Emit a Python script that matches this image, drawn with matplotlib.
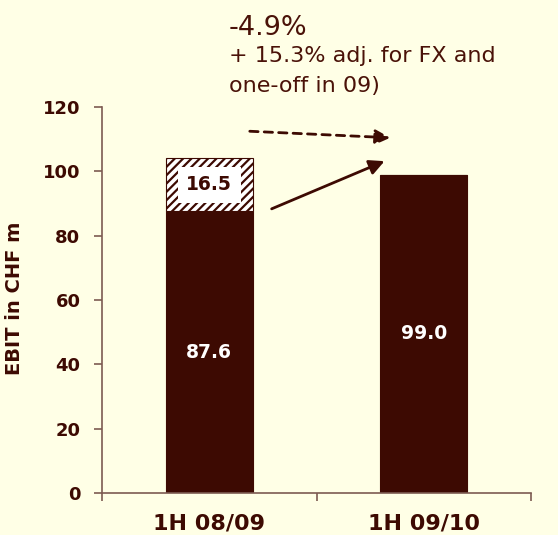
import matplotlib
matplotlib.use("Agg")
import matplotlib.pyplot as plt

# EBIT data (CHF m)
periods = ["1H 08/09", "1H 09/10"]
base_values = [87.6, 99.0]
one_off_values = [16.5, 0.0]
y_ticks = [0, 20, 40, 60, 80, 100, 120]
change_lines = ["-4.9%", "+ 15.3% adj. for FX and", "one-off in 09)"]

BG = "#FFFFE6"
BROWN = "#3D0A02"
TEXT = "#4A1208"
SPINE = "#7D5B52"

plt.rcParams["font.family"] = ["DejaVu Sans"]
plt.rcParams["hatch.color"] = BROWN
plt.rcParams["hatch.linewidth"] = 1.6

W, H = 558, 535
fig = plt.figure(figsize=(W / 100, H / 100), dpi=100, facecolor=BG)
ax = fig.add_axes([102 / W, 1 - 493 / H, 429 / W, 386 / H], facecolor=BG)

x = list(range(len(periods)))
bar_w = 0.405
ax.bar(x, base_values, width=bar_w, color=BROWN, edgecolor=BROWN, linewidth=0.8, zorder=2)
ax.bar(x, one_off_values, width=bar_w, bottom=base_values, color="white",
       edgecolor=BROWN, hatch="////", linewidth=0.8, zorder=2)

# value labels
for xi, v in zip(x, base_values):
    ax.text(xi, v / 2, f"{v:.1f}", color="white", fontsize=13.5, fontweight="bold",
            ha="center", va="center", zorder=3)
for xi, b, v in zip(x, base_values, one_off_values):
    if v > 0:
        ax.text(xi, b + v / 2, f"{v:.1f}", color=BROWN, fontsize=13.5, fontweight="bold",
                ha="center", va="center", zorder=3,
                bbox=dict(boxstyle="square,pad=0.45", fc="white", ec="none"))

ax.set_xlim(-0.5, 1.5)
ax.set_ylim(0, 120)
ax.set_yticks(y_ticks)
ax.set_yticklabels([str(t) for t in y_ticks], fontweight="bold")
ax.set_xticks(x)
ax.set_xticklabels(periods, fontweight="bold")
ax.set_xticks([-0.5, 0.5, 1.5], minor=True)

for side in ("top", "right"):
    ax.spines[side].set_visible(False)
for side in ("left", "bottom"):
    ax.spines[side].set_color(SPINE)
    ax.spines[side].set_linewidth(1.2)

ax.tick_params(axis="y", which="major", direction="out", length=6, width=1.2,
               color=SPINE, labelcolor=BROWN, labelsize=13, pad=9.5)
ax.tick_params(axis="x", which="major", length=0, labelcolor=BROWN, labelsize=16, pad=15)
ax.tick_params(axis="x", which="minor", direction="out", length=6, width=1.2, color=SPINE)

ax.set_ylabel("EBIT in CHF m", color=BROWN, fontsize=14, fontweight="bold")
ax.yaxis.set_label_coords(-0.182, 0.505)

# change arrows
ax.annotate("", xy=(0.857, 110.4), xytext=(0.176, 112.5),
            arrowprops=dict(arrowstyle="-|>,head_length=0.9,head_width=0.45",
                            color=BROWN, lw=2, linestyle=(0, (3, 2.2))), zorder=4)
ax.annotate("", xy=(0.829, 103.5), xytext=(0.279, 88.0),
            arrowprops=dict(arrowstyle="-|>,head_length=0.9,head_width=0.45",
                            color=BROWN, lw=2), zorder=4)

# change commentary
fig.text(229 / W, 1 - 35 / H, change_lines[0], color=TEXT, fontsize=19.5, va="baseline")
fig.text(229 / W, 1 - 62 / H, change_lines[1], color=TEXT, fontsize=16, va="baseline")
fig.text(229 / W, 1 - 92 / H, change_lines[2], color=TEXT, fontsize=16, va="baseline")

fig.savefig("out.png", dpi=100, facecolor=BG)
